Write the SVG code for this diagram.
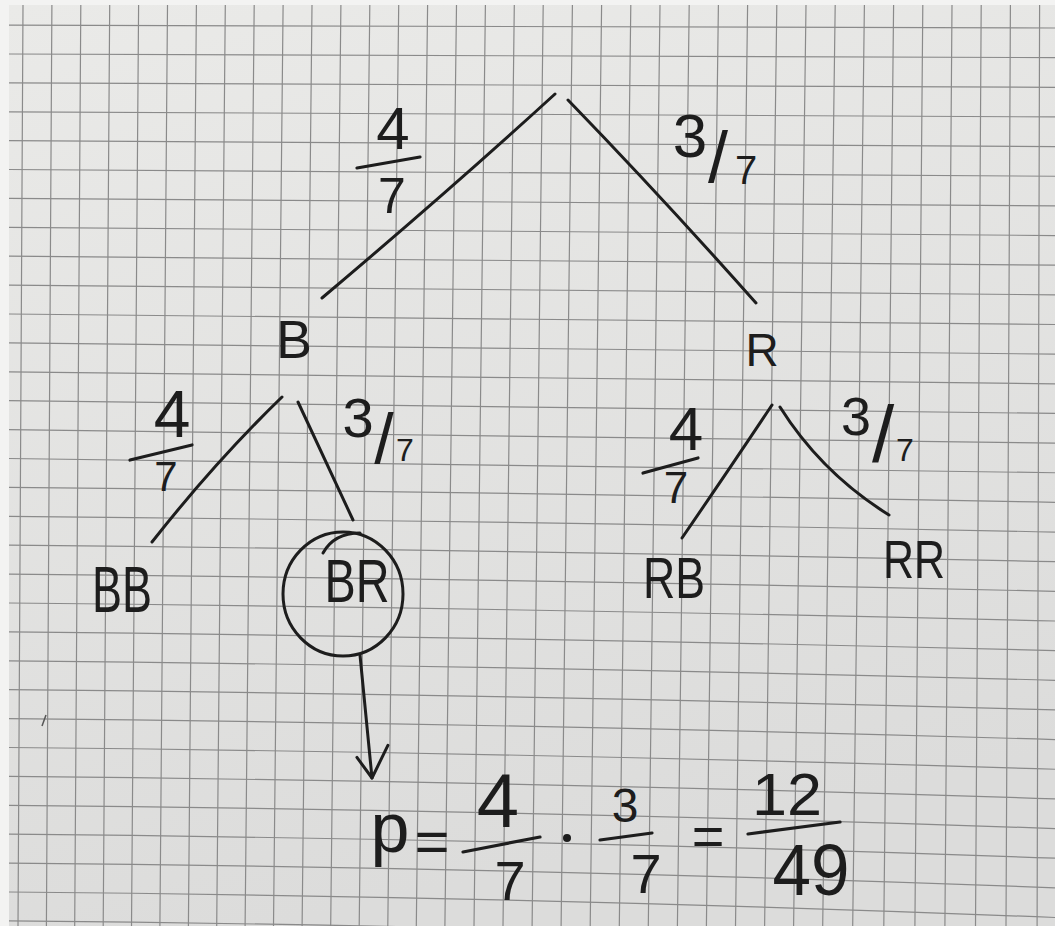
<svg xmlns="http://www.w3.org/2000/svg" width="1055" height="926" viewBox="0 0 1055 926">
<defs>
<linearGradient id="paper" x1="0" y1="0" x2="0.25" y2="1">
<stop offset="0" stop-color="#eaeae8"/>
<stop offset="1" stop-color="#dcdcdb"/>
</linearGradient>
<marker id="openArrow" markerUnits="userSpaceOnUse" viewBox="-36 -26 42 52" refX="0" refY="0" markerWidth="42" markerHeight="52" orient="auto" overflow="visible">
<path d="M -22 13 L 0 0 L -31 -19" fill="none" stroke="#1d1d1d" stroke-width="3" stroke-linecap="round" stroke-linejoin="round"/>
</marker>
<style>
.grid{fill:none;stroke:#8a8a8a;stroke-width:1.2}
.ink{fill:none;stroke:#1d1d1d;stroke-width:3;stroke-linecap:round;stroke-linejoin:round}
.bar{fill:none;stroke:#1d1d1d;stroke-width:3.2;stroke-linecap:round}
text{font-family:"Liberation Sans","DejaVu Sans",sans-serif;fill:#1d1d1d;text-anchor:middle}
</style>
</defs>
<rect x="0" y="0" width="1055" height="926" fill="#f3f3f2"/>
<rect x="9" y="5" width="1046" height="921" fill="url(#paper)"/>
<g id="grid">
<path class="grid" d="M23 5L18 926M51.9 5L46.4 926M80.8 5L74.7 926M109.7 5L103.2 926M138.6 5L131.5 926M167.5 5L159.9 926M196.4 5L188.4 926M225.3 5L216.7 926M254.2 5L245.1 926M283.1 5L273.5 926M312 5L302.1 926M340.9 5L330.7 926M369.8 5L359.2 926M398.7 5L387.8 926M427.6 5L416.3 926M456.5 5L444.9 926M485.4 5L474 926M514.3 5L503 926M543.2 5L532.1 926M572.4 5L561.1 926M601.6 5L590.2 926M630.8 5L619.3 926M660 5L648.3 926M689.2 5L677.4 926M718.4 5L706.4 926M747.6 5L735.5 926M776.8 5L764.6 926M806 5L793.6 926M835.2 5L822.7 926M864.4 5L852.7 926M893.6 5L883.8 926M922.8 5L914.9 926M952 5L944.9 926M981.2 5L975.5 926M1010.4 5L1006 926M1039.6 5L1037.1 926"/>
<path class="grid" d="M9 25.1Q527 26.5 1055 28M9 54Q527 55.75 1055 57.65M9 82.9Q527 85 1055 87.3M9 111.8Q527 114.25 1055 116.95M9 140.7Q527 143.5 1055 146.6M9 169.5Q527 172.75 1055 176.25M9 198.4Q527 202 1055 205.9M9 227.3Q527 231.25 1055 235.55M9 256.2Q527 260 1055 265.2M9 285.1Q527 289.1 1055 294.85M9 314Q527 318.2 1055 324.5M9 342.9Q527 347.2 1055 354.15M9 371.8Q527 376.3 1055 383.8M9 400.7Q527 405.3 1055 413.45M9 429.6Q527 434.4 1055 443.1M9 458.5Q527 463.4 1055 472.75M9 487.4Q527 492.4 1055 502.4M9 516.3Q527 521.3 1055 532.05M9 545.2Q527 550.3 1055 561.7M9 574.1Q527 579.2 1055 591.35M9 603Q527 608.2 1055 621M9 631.9Q527 637.1 1055 650.65M9 660.8Q527 666 1055 680.3M9 689.7Q527 694.8 1055 709.95M9 718.6Q527 723.7 1055 739.6M9 747.5Q527 752.5 1055 769.25M9 776.4Q527 781.4 1055 798.9M9 805.3Q527 810.2 1055 828.55M9 834.2Q527 839 1055 858.2M9 863.1Q527 867.8 1055 887.85M9 892Q527 896.5 1055 917.5M9 920.9Q527 925.3 1055 947.15"/>
</g>
<path d="M42 726L46 715" stroke="#555" stroke-width="1.5" fill="none"/>

<g id="connectors">
<path id="edge-root-B" class="ink" d="M555 94Q450 190 322 298"/>
<path id="edge-root-R" class="ink" d="M568 100Q660 195 756 303"/>
<path id="edge-B-BB" class="ink" d="M282 397Q215 462 152 542"/>
<path id="edge-B-BR" class="ink" d="M298 402L353 520"/>
<path id="edge-R-RB" class="ink" d="M772 405Q730 468 682 538"/>
<path id="edge-R-RR" class="ink" d="M780 407Q821.5 473 889 515"/>
<path id="edge-BR-formula" class="ink" d="M360 655L372 778" marker-end="url(#openArrow)"/>
</g>

<g id="label-root-B">
<text x="393" y="149" font-size="60">4</text>
<line class="bar" x1="357" y1="168" x2="420" y2="157"/>
<text x="392" y="213" font-size="50">7</text>
</g>
<g id="label-root-R">
<text font-size="62"><tspan x="690" y="157">3</tspan><tspan x="718" y="182" font-size="72">/</tspan><tspan x="746" y="184" font-size="40">7</tspan></text>
</g>
<g id="label-B-BB">
<text x="172" y="437" font-size="66">4</text>
<line class="bar" x1="130" y1="460" x2="192" y2="445"/>
<text x="166" y="491" font-size="42">7</text>
</g>
<g id="label-B-BR">
<text font-size="56"><tspan x="358" y="437">3</tspan><tspan x="384" y="463" font-size="70">/</tspan><tspan x="405" y="461" font-size="32">7</tspan></text>
</g>
<g id="label-R-RB">
<text x="686" y="450" font-size="62">4</text>
<line class="bar" x1="643" y1="473" x2="698" y2="458"/>
<text x="676" y="503" font-size="44">7</text>
</g>
<g id="label-R-RR">
<text font-size="54"><tspan x="856" y="435">3</tspan><tspan x="883" y="462" font-size="80">/</tspan><tspan x="905" y="461" font-size="32">7</tspan></text>
</g>

<g id="node-B"><text x="294" y="358" font-size="54">B</text></g>
<g id="node-R"><text x="762" y="366" font-size="46">R</text></g>
<g id="node-BB"><text x="122" y="612" font-size="64" textLength="60" lengthAdjust="spacingAndGlyphs">BB</text></g>
<g id="node-BR">
<ellipse class="ink" cx="343" cy="594" rx="60" ry="62"/>
<path class="ink" d="M323 553Q334 533 360 533" stroke-width="2"/>
<text x="357" y="602" font-size="62" textLength="65" lengthAdjust="spacingAndGlyphs">BR</text>
</g>
<g id="node-RB"><text x="674" y="598" font-size="58" textLength="62" lengthAdjust="spacingAndGlyphs">RB</text></g>
<g id="node-RR"><text x="914" y="578" font-size="54" textLength="62" lengthAdjust="spacingAndGlyphs">RR</text></g>

<g id="formula">
<text x="390" y="852" font-size="70">p</text>
<text x="432" y="862" font-size="60">=</text>
<text x="498" y="827" font-size="76">4</text>
<line class="bar" x1="463" y1="852" x2="540" y2="837"/>
<text x="510" y="900" font-size="56">7</text>
<circle cx="567" cy="838" r="4" fill="#1d1d1d"/>
<text x="625" y="822" font-size="48">3</text>
<line class="bar" x1="600" y1="840" x2="652" y2="833"/>
<text x="646" y="893" font-size="56">7</text>
<text x="708" y="855" font-size="56">=</text>
<text x="787" y="815" font-size="60" textLength="70" lengthAdjust="spacingAndGlyphs">12</text>
<line class="bar" x1="748" y1="834" x2="840" y2="822"/>
<text x="811" y="895" font-size="72" textLength="77" lengthAdjust="spacingAndGlyphs">49</text>
</g>
</svg>
